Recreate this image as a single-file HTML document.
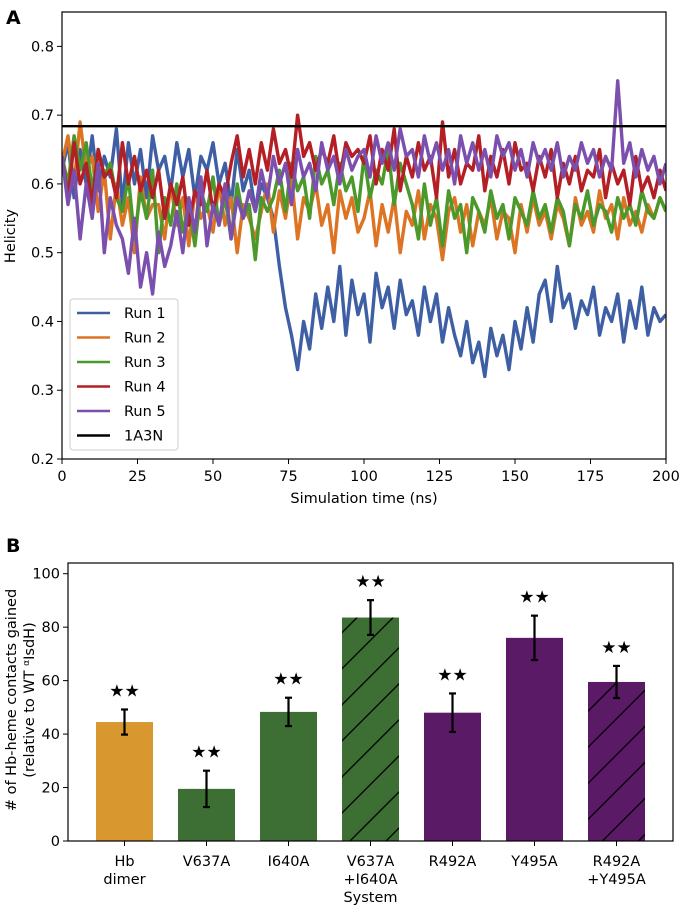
<!DOCTYPE html>
<html><head><meta charset="utf-8">
<style>
html,body{margin:0;padding:0;background:#fff;}
svg{display:block;font-family:"DejaVu Sans","Liberation Sans",sans-serif;}
</style></head>
<body>
<svg id="fig" width="681" height="905" viewBox="0 0 681 905" xmlns="http://www.w3.org/2000/svg">
<defs>
<pattern id="hatch" patternUnits="userSpaceOnUse" width="25.5" height="10" patternTransform="rotate(45)">
<line x1="0" y1="0" x2="0" y2="10" stroke="#000" stroke-width="2.6"/>
</pattern>
<clipPath id="clipA"><rect x="62" y="12" width="604" height="447"/></clipPath>
</defs>
<g id="panelA"></g>
<g id="panelB"></g>
</svg>
<script>
// ---------- Panel A data ----------
const timeStep = 2;
const run1 = [0.62,0.66,0.58,0.65,0.60,0.67,0.59,0.64,0.61,0.68,0.57,0.66,0.60,0.65,0.58,0.67,0.62,0.64,0.59,0.66,0.61,0.65,0.58,0.64,0.62,0.66,0.60,0.63,0.57,0.65,0.59,0.62,0.56,0.60,0.58,
0.55,0.48,0.42,0.38,0.33,0.40,0.36,0.44,0.39,
0.45,0.40,0.48,0.38,0.46,0.41,0.44,0.37,0.47,0.42,0.45,0.39,0.46,0.41,0.43,0.38,0.45,0.40,0.44,0.37,0.42,
0.38,0.35,0.40,0.34,0.37,0.32,0.39,0.35,0.38,0.33,0.40,0.36,0.42,0.37,0.44,
0.46,0.40,0.48,0.42,0.44,0.39,0.43,0.41,0.45,0.38,0.42,0.40,0.44,0.37,0.43,0.39,0.45,0.38,0.42,0.40,0.41];
const run2 = [0.63,0.67,0.60,0.69,0.62,0.64,
0.56,0.62,0.52,0.60,0.54,0.58,0.50,0.61,0.55,0.57,
0.57,0.52,0.60,0.54,0.58,0.51,0.59,0.55,0.57,0.53,0.60,0.54,0.58,0.50,0.57,0.55,0.52,
0.56,0.60,0.53,0.59,0.55,0.61,0.52,0.58,0.56,0.60,0.54,0.57,0.50,0.59,0.55,0.58,0.53,
0.55,0.59,0.51,0.57,0.53,0.58,0.50,0.56,0.54,0.59,0.52,0.57,0.55,0.49,0.56,0.58,0.53,0.57,0.51,0.56,0.54,0.58,0.52,0.56,0.55,0.50,0.57,0.53,0.58,0.54,0.56,0.52,0.57,0.55,0.51,0.58,0.54,0.56,0.53,0.59,0.55,0.57,0.52,0.58,0.54,0.56,0.53,0.57,0.55,0.58,0.56];
const run3 = [0.64,0.60,0.67,0.62,0.66,0.59,0.65,0.61,0.63,0.58,
0.56,0.61,0.52,0.59,0.55,0.62,0.50,0.58,0.54,0.60,0.53,0.57,0.51,0.59,0.56,0.61,0.54,0.58,0.52,0.60,0.55,0.57,0.49,0.58,0.56,
0.58,0.62,0.56,0.63,0.59,0.61,0.55,0.64,0.60,0.62,0.57,0.63,0.59,0.61,0.56,0.64,0.58,0.62,0.60,0.65,0.57,0.63,0.60,
0.57,0.52,0.60,0.54,0.58,0.51,0.59,0.55,0.57,0.50,0.58,0.56,0.53,0.59,0.55,0.57,0.52,0.58,0.56,0.54,0.59,0.55,0.57,0.53,0.58,0.56,0.51,0.57,0.55,0.59,0.54,0.57,0.56,0.53,0.58,0.55,0.57,0.54,0.59,0.56,0.55,0.58,0.56];
const run4 = [0.64,0.58,0.66,0.60,0.63,0.57,0.65,0.61,0.62,0.58,0.66,0.60,0.64,0.59,0.62,
0.58,0.62,0.55,0.60,0.57,0.61,0.54,0.59,0.57,0.62,0.56,0.60,0.58,
0.63,0.67,0.61,0.65,0.60,0.66,0.62,0.68,0.63,0.65,0.61,0.70,0.64,0.66,0.62,0.65,0.63,0.67,0.61,0.66,0.64,0.65,
0.63,0.67,0.60,0.65,0.62,0.68,0.59,0.64,0.61,0.66,0.62,0.64,0.58,0.69,0.61,0.65,0.60,0.63,0.62,0.67,0.59,0.64,0.61,0.65,0.60,0.66,0.62,0.63,0.59,0.64,0.61,0.65,0.58,0.63,0.60,0.64,0.59,0.62,0.61,0.65,0.58,0.63,0.60,0.62,0.57,0.64,0.59,0.61,0.58,0.62,0.59];
const run5 = [0.64,0.57,0.62,0.52,0.60,0.55,0.63,0.50,0.58,0.54,
0.52,0.47,0.55,0.45,0.50,0.44,0.53,0.48,0.51,
0.56,0.50,0.58,0.53,0.61,0.51,0.57,0.54,0.60,0.52,0.58,0.55,0.59,0.56,
0.62,0.58,0.64,0.60,0.63,0.57,0.65,0.61,0.63,0.59,0.66,0.62,0.64,0.60,0.65,0.62,0.64,
0.65,0.61,0.67,0.63,0.66,0.62,0.68,0.64,0.65,0.61,0.67,0.63,0.66,0.62,0.65,0.60,0.67,0.63,0.66,0.62,0.65,0.61,0.67,0.64,0.66,0.62,0.65,0.61,0.66,0.63,0.65,0.62,0.66,0.61,0.64,0.62,0.66,0.63,0.65,0.61,0.64,0.62,0.75,0.63,0.66,0.61,0.65,0.62,0.64,0.60,0.63];
const refHelicity = 0.684;
const runNames = ["Run 1","Run 2","Run 3","Run 4","Run 5"];
const xTicksA = [0,25,50,75,100,125,150,175,200];
const yTicksA = [0.2,0.3,0.4,0.5,0.6,0.7,0.8];

// ---------- Panel B data ----------
const systems = [["Hb","dimer"],["V637A"],["I640A"],["V637A","+I640A"],["R492A"],["Y495A"],["R492A","+Y495A"]];
const contacts = [44.5,19.5,48.3,83.6,48.0,76.0,59.5];
const contactErr = [4.7,6.8,5.3,6.5,7.2,8.3,6.0];
const yTicksB = [0,20,40,60,80,100];

const NS="http://www.w3.org/2000/svg";
function mk(tag, attrs, parent){const e=document.createElementNS(NS,tag);for(const k in attrs)e.setAttribute(k,attrs[k]);parent.appendChild(e);return e;}

// ----- Panel A -----
const A = document.getElementById('panelA');
const axL=62, axR=666, axT=12, axB=459;
const xA = t => axL + (t/200)*(axR-axL);
const yA = v => axB - (v-0.2)/(0.85-0.2)*(axB-axT);
const colors=["#3f5fa5","#dd7424","#4b982b","#b31f24","#7b4fad"];
const lineG = mk('g',{'clip-path':'url(#clipA)'},A);
[run1,run2,run3,run4,run5].forEach((run,i)=>{
  const d = run.map((v,j)=>(j?'L':'M')+xA(j*timeStep).toFixed(1)+','+yA(v).toFixed(1)).join('');
  const p = mk('path',{d:d,fill:'none',stroke:colors[i],'stroke-width':3.4,'stroke-linejoin':'round'},lineG);
  
  
});
const refL = mk('line',{x1:axL,x2:axR,y1:yA(refHelicity),y2:yA(refHelicity),stroke:'#000','stroke-width':2.4},A);


const frameA = mk('rect',{x:axL,y:axT,width:axR-axL,height:axB-axT,fill:'none',stroke:'#000','stroke-width':1.2},A);


xTicksA.forEach(t=>{
  mk('line',{x1:xA(t),x2:xA(t),y1:axB,y2:axB+5,stroke:'#000','stroke-width':1},A);
  const tx = mk('text',{x:xA(t),y:axB+22,'font-size':14.5,'text-anchor':'middle'},A);
  tx.textContent=t;
  
  
});
yTicksA.forEach(v=>{
  mk('line',{x1:axL-5,x2:axL,y1:yA(v),y2:yA(v),stroke:'#000','stroke-width':1},A);
  const tx = mk('text',{x:axL-8,y:yA(v)+5,'font-size':14.5,'text-anchor':'end'},A);
  tx.textContent=v.toFixed(1);
  
  
});
let t1=mk('text',{x:364,y:503,'font-size':14.5,'text-anchor':'middle'},A);t1.textContent='Simulation time (ns)';


t1=mk('text',{x:0,y:0,'font-size':14.5,'text-anchor':'middle',transform:'translate(15,236) rotate(-90)'},A);t1.textContent='Helicity';


t1=mk('text',{x:6,y:24,'font-size':19,'font-weight':'bold'},A);t1.textContent='A';


// legend
const leg = mk('g',{},A);


mk('rect',{x:70,y:299,width:108,height:151,rx:3,fill:'#fff','fill-opacity':0.85,stroke:'#ccc','stroke-width':1},leg);
const legNames = runNames.concat(['1A3N']);
const legCols = colors.concat(['#000']);
legNames.forEach((n,i)=>{
  const y = 313 + i*24.5;
  mk('line',{x1:77,x2:110,y1:y,y2:y,stroke:legCols[i],'stroke-width':2.4},leg);
  const tx = mk('text',{x:124,y:y+5,'font-size':14.5},leg);
  tx.textContent=n;
  
  
});

// ----- Panel B -----
const B = document.getElementById('panelB');
const bL=68, bR=673, bT=563, bB=841;
const slot=82, x0=124.5, bw=57;
const xB = i => x0 + i*slot;
const yB = v => bB - v/104*(bB-bT);
const barCols=["#d9982f","#3d6f35","#3d6f35","#3d6f35","#5a1a66","#5a1a66","#5a1a66"];
const hatched=[false,false,false,true,false,false,true];
contacts.forEach((v,i)=>{
  const r = mk('rect',{x:xB(i)-bw/2,y:yB(v),width:bw,height:bB-yB(v),fill:barCols[i]},B);
  
  
  if(hatched[i]) mk('rect',{x:xB(i)-bw/2,y:yB(v),width:bw,height:bB-yB(v),fill:'url(#hatch)'},B);
  const e = contactErr[i];
  const eg = mk('g',{stroke:'#000','stroke-width':2.2},B);
  
  
  mk('line',{x1:xB(i),x2:xB(i),y1:yB(v-e),y2:yB(v+e)},eg);
  mk('line',{x1:xB(i)-3.5,x2:xB(i)+3.5,y1:yB(v-e),y2:yB(v-e)},eg);
  mk('line',{x1:xB(i)-3.5,x2:xB(i)+3.5,y1:yB(v+e),y2:yB(v+e)},eg);
  const s = mk('text',{x:xB(i),y:yB(v+e)-13,'font-size':17,'text-anchor':'middle','font-family':'DejaVu Sans, sans-serif'},B);
  s.textContent='★★';
  
  
  mk('line',{x1:xB(i),x2:xB(i),y1:bB,y2:bB+5,stroke:'#000','stroke-width':1},B);
  systems[i].forEach((ln,k)=>{
    const tx = mk('text',{x:xB(i),y:bB+25+k*18,'font-size':14.5,'text-anchor':'middle'},B);
    tx.textContent=ln;
    
    
  });
});
const frameB = mk('rect',{x:bL,y:bT,width:bR-bL,height:bB-bT,fill:'none',stroke:'#000','stroke-width':1.2},B);


yTicksB.forEach(v=>{
  mk('line',{x1:bL-5,x2:bL,y1:yB(v),y2:yB(v),stroke:'#000','stroke-width':1},B);
  const tx = mk('text',{x:bL-8,y:yB(v)+5,'font-size':14.5,'text-anchor':'end'},B);
  tx.textContent=v;
  
  
});
t1=mk('text',{x:xB(3),y:902,'font-size':14.5,'text-anchor':'middle'},B);t1.textContent='System';


t1=mk('text',{x:0,y:0,'font-size':14.5,'text-anchor':'middle',transform:'translate(16,700) rotate(-90)'},B);t1.textContent='# of Hb-heme contacts gained';


t1=mk('text',{x:0,y:0,'font-size':14.5,'text-anchor':'middle',transform:'translate(34,700) rotate(-90)'},B);
t1.innerHTML='(relative to WT <tspan font-size="9" dy="-5">α</tspan><tspan dy="5">IsdH)</tspan>';


t1=mk('text',{x:6,y:552,'font-size':19,'font-weight':'bold'},B);t1.textContent='B';


</script>
</body></html>
